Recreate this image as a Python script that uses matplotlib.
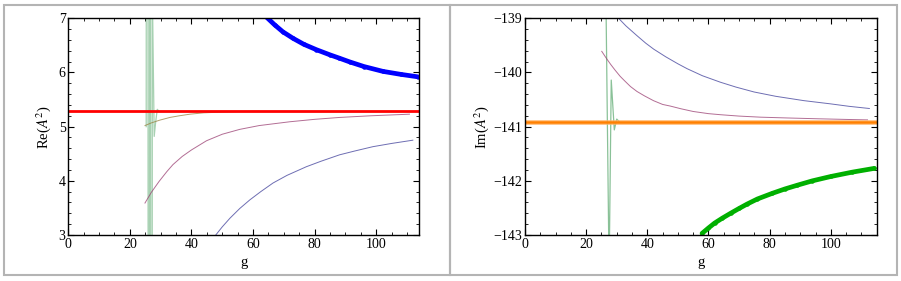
import matplotlib
matplotlib.use("Agg")
import matplotlib.pyplot as plt
from matplotlib.patches import Rectangle
from matplotlib.ticker import MultipleLocator

plt.rcParams['font.family'] = ['Liberation Serif', 'DejaVu Serif']
plt.rcParams['mathtext.fontset'] = 'stix'

# ---- left panel: Re(A^2) ----
re_thick_g = [64.4, 67.0, 69.7, 73.0, 76.5, 80.6, 85.0, 88.0, 91.4, 96.0, 102.2, 108.0, 113.5]
re_thick_v = [7.02, 6.88, 6.75, 6.63, 6.52, 6.42, 6.325, 6.265, 6.195, 6.11, 6.02, 5.965, 5.92]
re_red = 5.29
re_olive_g = [24.9, 27.0, 29.7, 33.0, 36.0, 39.5, 44.0, 50.3, 56.0, 62.0]
re_olive_v = [5.02, 5.07, 5.12, 5.17, 5.20, 5.23, 5.255, 5.27, 5.28, 5.285]
re_mag_g = [24.9, 27.0, 29.5, 32.0, 34.0, 37.0, 40.0, 44.9, 50.0, 55.7, 62.0, 71.9, 80.0, 88.1, 98.0, 110.8]
re_mag_v = [3.59, 3.79, 3.99, 4.17, 4.30, 4.45, 4.57, 4.74, 4.86, 4.95, 5.02, 5.09, 5.135, 5.17, 5.20, 5.23]
re_blue_g = [47.9, 50.0, 52.5, 55.7, 59.0, 62.5, 66.5, 71.0, 77.3, 82.0, 88.1, 93.0, 98.9, 105.0, 111.9]
re_blue_v = [3.00, 3.15, 3.31, 3.49, 3.65, 3.80, 3.96, 4.10, 4.26, 4.36, 4.48, 4.55, 4.63, 4.69, 4.75]
re_green_g = [25.3, 25.6, 26.2, 26.5, 27.0, 27.3, 27.9, 28.4, 28.9, 29.5]
re_green_v = [5.0, 40.0, -30.0, 40.0, -30.0, 7.5, 4.82, 5.1, 5.32, 5.28]

# ---- right panel: Im(A^2) ----
im_thick_g = [57.9, 60.0, 62.0, 64.5, 67.2, 70.0, 72.6, 76.0, 80.9, 85.0, 89.1, 94.0, 100.0, 107.0, 114.2]
im_thick_v = [-142.97, -142.87, -142.78, -142.69, -142.60, -142.51, -142.43, -142.335, -142.23,
              -142.15, -142.08, -142.00, -141.92, -141.84, -141.77]
im_orange = -140.92
im_mag_g = [25.1, 26.5, 28.0, 29.5, 31.1, 32.5, 34.5, 36.6, 39.0, 42.0, 45.0, 47.5, 51.0, 55.0,
            60.0, 64.0, 70.0, 77.0, 86.0, 96.0, 107.6, 112.0]
im_mag_v = [-139.61, -139.73, -139.85, -139.96, -140.07, -140.15, -140.26, -140.35, -140.43, -140.52,
            -140.59, -140.62, -140.67, -140.72, -140.76, -140.78, -140.805, -140.825, -140.84,
            -140.855, -140.87, -140.875]
im_blue_g = [30.6, 33.0, 36.6, 39.5, 42.1, 46.0, 50.0, 53.0, 58.0, 63.9, 69.0, 74.9, 82.0, 91.2, 100.0, 106.0, 112.6]
im_blue_v = [-139.00, -139.14, -139.32, -139.46, -139.57, -139.71, -139.84, -139.93, -140.06, -140.18,
             -140.27, -140.36, -140.44, -140.52, -140.58, -140.625, -140.665]
im_green_g = [26.5, 27.4, 27.6, 28.2, 29.2, 30.0, 31.0]
im_green_v = [-138.8, -143.2, -143.2, -140.14, -141.06, -140.86, -140.92]

c_blue = (0.24, 0.24, 0.6)
c_mag = (0.6, 0.24, 0.442)
c_olive = (0.6, 0.5, 0.24)
c_green = (0.24, 0.6, 0.33)

fig = plt.figure(figsize=(9.01, 2.81), dpi=100)
ax1 = fig.add_axes([68.3 / 901, 46 / 281, 351 / 901, 216.7 / 281])
ax2 = fig.add_axes([525 / 901, 46 / 281, 351.7 / 901, 216.7 / 281])

# frames around panels
fig.add_artist(Rectangle((4 / 901, 6 / 281), 446 / 901, 270 / 281, transform=fig.transFigure,
                         fill=False, ec='#b4b4b4', lw=1.5))
fig.add_artist(Rectangle((450 / 901, 6 / 281), 447 / 901, 270 / 281, transform=fig.transFigure,
                         fill=False, ec='#b4b4b4', lw=1.5))

thin = dict(lw=0.7, alpha=0.75)
ax1.plot(re_green_g, re_green_v, color=c_green, lw=0.9, alpha=0.45)
ax1.plot(re_olive_g, re_olive_v, color=c_olive, **thin)
ax1.plot(re_mag_g, re_mag_v, color=c_mag, **thin)
ax1.plot(re_blue_g, re_blue_v, color=c_blue, **thin)
ax1.axhline(re_red, color='red', lw=2.0)
ax1.plot(re_thick_g, re_thick_v, color='#0000ff', lw=3.4, solid_capstyle='round',
         marker='o', ms=3.2, mew=0)
ax1.set_xlim(0, 114)
ax1.set_ylim(3, 7)
ax1.yaxis.set_major_locator(MultipleLocator(1))
ax1.yaxis.set_minor_locator(MultipleLocator(0.2))
ax1.set_ylabel('Re($A^2$)', fontsize=10.5, labelpad=4)

ax2.plot(im_green_g, im_green_v, color=c_green, lw=0.9, alpha=0.6)
ax2.plot(im_mag_g, im_mag_v, color=c_mag, **thin)
ax2.plot(im_blue_g, im_blue_v, color=c_blue, **thin)
ax2.axhline(im_orange, color='#ffb060', lw=3.6, alpha=0.7)
ax2.axhline(im_orange, color='#ff8000', lw=1.8)
ax2.plot(im_thick_g, im_thick_v, color='#00b000', lw=3.4, solid_capstyle='round',
         marker='o', ms=3.2, mew=0)
ax2.set_xlim(0, 115)
ax2.set_ylim(-143, -139)
ax2.yaxis.set_major_locator(MultipleLocator(1))
ax2.yaxis.set_minor_locator(MultipleLocator(0.2))
ax2.set_ylabel('Im($A^2$)', fontsize=10.5, labelpad=2)

for ax in (ax1, ax2):
    ax.xaxis.set_major_locator(MultipleLocator(20))
    ax.xaxis.set_minor_locator(MultipleLocator(5))
    ax.tick_params(which='both', direction='in', top=True, right=True, labelsize=10, pad=2)
    ax.tick_params(which='major', length=4, width=0.8)
    ax.tick_params(which='minor', length=2.2, width=0.6)
    for s in ax.spines.values():
        s.set_linewidth(1.0)
    ax.set_xlabel('g', fontsize=10.5, labelpad=4)

fig.savefig('out.png', dpi=100)
